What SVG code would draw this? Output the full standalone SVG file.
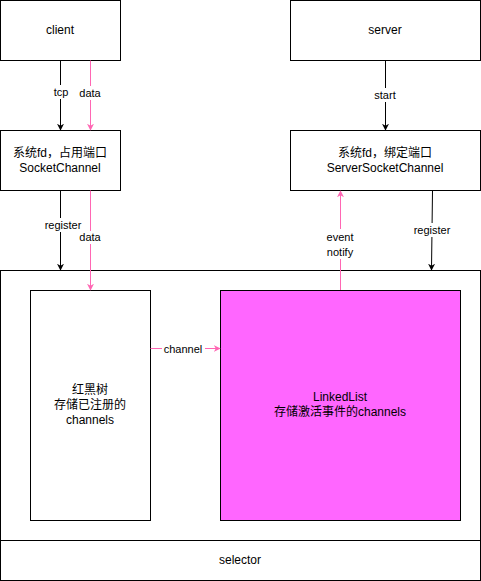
<svg xmlns="http://www.w3.org/2000/svg" width="481" height="581" viewBox="0 0 481 581">
  <style>
    .box { fill: #ffffff; stroke: #000000; stroke-width: 1; }
    .hot { fill: #ff66ff; stroke: #000000; stroke-width: 1; }
    .t { font-family: "Liberation Sans", "Noto Sans CJK SC", Arial, sans-serif; font-size: 12px; fill: #000000; text-anchor: middle; dominant-baseline: central; }
    .lbl { font-family: "Liberation Sans", "Noto Sans CJK SC", Arial, sans-serif; font-size: 11px; fill: #000000; text-anchor: middle; dominant-baseline: central; }
    .bk { stroke: #000000; stroke-width: 1; fill: none; marker-end: url(#ab); }
    .pk { stroke: #ff66b3; stroke-width: 1; fill: none; marker-end: url(#ap); }
    .bg { fill: #ffffff; }
  </style>
  <defs>
    <marker id="ab" viewBox="0 0 10 10" refX="9" refY="5" markerWidth="7" markerHeight="7" markerUnits="userSpaceOnUse" orient="auto">
      <path d="M0,0 L10,5 L0,10 L3,5 Z" fill="#000000"/>
    </marker>
    <marker id="ap" viewBox="0 0 10 10" refX="9" refY="5" markerWidth="7" markerHeight="7" markerUnits="userSpaceOnUse" orient="auto">
      <path d="M0,0 L10,5 L0,10 L3,5 Z" fill="#ff66b3"/>
    </marker>
  </defs>

  <!-- selector container -->
  <g id="selector">
    <rect class="box" x="0.5" y="270.5" width="480" height="310"/>
    <line x1="0.5" y1="540.5" x2="480.5" y2="540.5" stroke="#000000"/>
    <text class="t" x="240" y="560">selector</text>
  </g>

  <g id="client">
    <rect class="box" x="0.5" y="0.5" width="120" height="60"/>
    <text class="t" x="60" y="30">client</text>
  </g>

  <g id="server">
    <rect class="box" x="290.5" y="0.5" width="190" height="60"/>
    <text class="t" x="385" y="30">server</text>
  </g>

  <g id="socket-channel">
    <rect class="box" x="0.5" y="130.5" width="120" height="60"/>
    <text class="t" x="60" y="153">系统fd，占用端口</text>
    <text class="t" x="60" y="168">SocketChannel</text>
  </g>

  <g id="server-socket-channel">
    <rect class="box" x="290.5" y="130.5" width="190" height="60"/>
    <text class="t" x="385" y="153">系统fd，绑定端口</text>
    <text class="t" x="385" y="168">ServerSocketChannel</text>
  </g>

  <g id="rbtree">
    <rect class="box" x="30.5" y="290.5" width="120" height="230"/>
    <text class="t" x="90" y="390">红黑树</text>
    <text class="t" x="90" y="405">存储已注册的</text>
    <text class="t" x="90" y="420">channels</text>
  </g>

  <g id="linkedlist">
    <rect class="hot" x="220.5" y="290.5" width="240" height="230"/>
    <text class="t" x="340" y="397">LinkedList</text>
    <text class="t" x="340" y="412">存储激活事件的channels</text>
  </g>

  <g id="connectors">
    <!-- client -> SocketChannel -->
    <line class="bk" x1="60.5" y1="60.5" x2="60.5" y2="130"/>
    <rect class="bg" x="52" y="85" width="17" height="14"/>
    <text class="lbl" x="61" y="92">tcp</text>
    <line class="pk" x1="90.5" y1="60.5" x2="90.5" y2="130"/>
    <rect class="bg" x="78" y="86" width="25" height="14"/>
    <text class="lbl" x="90" y="93">data</text>

    <!-- server -> ServerSocketChannel -->
    <line class="bk" x1="385.5" y1="60.5" x2="385.5" y2="130"/>
    <rect class="bg" x="371" y="88" width="29" height="14"/>
    <text class="lbl" x="385" y="95">start</text>

    <!-- SocketChannel -> selector -->
    <line class="bk" x1="60.5" y1="190.5" x2="60.5" y2="270"/>
    <rect class="bg" x="42" y="218" width="40" height="14"/>
    <text class="lbl" x="63" y="225">register</text>
    <line class="pk" x1="90.5" y1="190.5" x2="90.5" y2="290"/>
    <rect class="bg" x="78" y="231" width="25" height="13"/>
    <text class="lbl" x="90" y="237">data</text>

    <!-- LinkedList -> ServerSocketChannel -->
    <line class="pk" x1="340.5" y1="290" x2="340.5" y2="191"/>
    <rect class="bg" x="324" y="229" width="33" height="30"/>
    <text class="lbl" x="340" y="237">event</text>
    <text class="lbl" x="340" y="252">notify</text>

    <!-- ServerSocketChannel -> selector -->
    <line class="bk" x1="432.5" y1="190.5" x2="431.5" y2="270"/>
    <rect class="bg" x="411" y="223" width="42" height="14"/>
    <text class="lbl" x="432" y="230">register</text>

    <!-- tree -> list -->
    <line class="pk" x1="150.5" y1="348.5" x2="220" y2="348.5"/>
    <rect class="bg" x="162" y="341" width="43" height="14"/>
    <text class="lbl" x="183" y="349">channel</text>
  </g>
</svg>
